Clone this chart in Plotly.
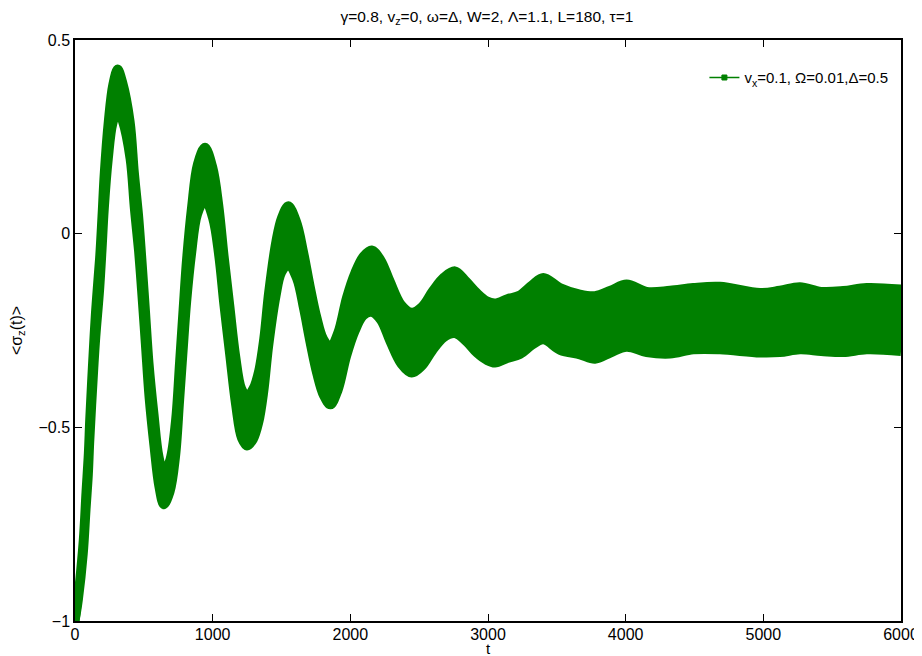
import plotly.graph_objects as go

# time samples (t) and the upper / lower envelope of the fast oscillation
t = [0, 24, 60, 80, 97, 107, 126, 149, 179, 196, 213, 242, 275, 310, 345, 400, 431, 462, 484, 511,
     538, 574, 610, 645, 690, 730, 760, 785, 811, 847, 890, 944, 1000, 1044, 1082, 1124, 1167, 1210,
     1250, 1295, 1335, 1371, 1407, 1460, 1500, 1550, 1610, 1660, 1707, 1756, 1805, 1855, 1910, 1973,
     2034, 2095, 2155, 2220, 2288, 2370, 2446, 2520, 2597, 2680, 2760, 2840, 2918, 2990, 3051, 3140,
     3232, 3320, 3402, 3523, 3668, 3777, 3890, 4007, 4152, 4322, 4491, 4685, 4976, 5120, 5266, 5420,
     5581, 5751, 6000]

upper = [-1.000, -0.930, -0.792, -0.667, -0.567, -0.479, -0.346, -0.203, -0.062, 0.044, 0.158, 0.290,
         0.385, 0.425, 0.392, 0.290, 0.158, 0.046, -0.058, -0.196, -0.336, -0.467, -0.576, -0.617,
         -0.583, -0.484, -0.330, -0.197, -0.064, 0.069, 0.180, 0.223, 0.172, 0.074, -0.055, -0.185,
         -0.316, -0.400, -0.419, -0.399, -0.353, -0.272, -0.151, -0.019, 0.041, 0.072, 0.030, -0.047,
         -0.134, -0.215, -0.272, -0.292, -0.255, -0.164, -0.100, -0.058, -0.042, -0.067, -0.122,
         -0.183, -0.203, -0.188, -0.148, -0.112, -0.096, -0.122, -0.152, -0.173, -0.179, -0.168,
         -0.158, -0.132, -0.113, -0.139, -0.156, -0.160, -0.146, -0.130, -0.149, -0.146, -0.139,
         -0.136, -0.152, -0.146, -0.137, -0.149, -0.147, -0.139, -0.143]

lower = [-1.000, -0.946, -0.826, -0.713, -0.621, -0.537, -0.412, -0.277, -0.144, -0.044, 0.066, 0.194,
         0.285, 0.316, 0.290, 0.194, 0.066, -0.046, -0.148, -0.284, -0.422, -0.549, -0.654, -0.700,
         -0.667, -0.576, -0.430, -0.303, -0.176, -0.051, 0.050, 0.086, 0.040, -0.056, -0.185, -0.313,
         -0.442, -0.528, -0.548, -0.531, -0.487, -0.408, -0.289, -0.161, -0.101, -0.080, -0.116, -0.193,
         -0.280, -0.361, -0.418, -0.442, -0.405, -0.316, -0.252, -0.212, -0.203, -0.223, -0.278,
         -0.337, -0.360, -0.342, -0.302, -0.268, -0.258, -0.278, -0.308, -0.327, -0.334, -0.322,
         -0.312, -0.288, -0.274, -0.301, -0.313, -0.324, -0.308, -0.293, -0.307, -0.311, -0.300,
         -0.300, -0.308, -0.307, -0.300, -0.304, -0.307, -0.300, -0.304]

x_ticks = [0, 1000, 2000, 3000, 4000, 5000, 6000]
y_ticks = [-1, -0.5, 0, 0.5]
y_tick_labels = ["\u22121", "\u22120.5", "0", "0.5"]

GREEN = "#008000"
FONT = "Liberation Sans, Arial, Helvetica, sans-serif"

fig = go.Figure()
fig.add_trace(go.Scatter(x=t, y=upper, mode="lines", line=dict(color=GREEN, width=9, shape="spline"),
                         showlegend=False, hoverinfo="skip"))
fig.add_trace(go.Scatter(x=t, y=lower, mode="lines", line=dict(color=GREEN, width=9, shape="spline"),
                         fill="tonexty", fillcolor=GREEN, showlegend=False, hoverinfo="skip"))
# legend entry
fig.add_trace(go.Scatter(x=[None], y=[None], mode="lines+markers",
                         line=dict(color=GREEN, width=1.5),
                         marker=dict(symbol="square", size=5, color=GREEN, line=dict(color=GREEN, width=1)),
                         name="v<sub>x</sub>=0.1, Ω=0.01,Δ=0.5"))

axis_common = dict(showline=True, linecolor="black", linewidth=1.5, mirror="ticks", ticks="inside",
                   ticklen=7, tickwidth=1, tickcolor="black", showgrid=False, zeroline=False,
                   automargin=False, tickfont=dict(family=FONT, size=16, color="black"))

# the page body adds an 8px offset, so the figure is 914x648 with left/top margins shifted accordingly
fig.update_layout(
    width=914, height=648,
    margin=dict(l=67, r=21, t=32, b=35),
    paper_bgcolor="white", plot_bgcolor="white",
    font=dict(family=FONT, color="black"),
    title=dict(text="γ=0.8, v<sub>z</sub>=0, ω=Δ, W=2, Λ=1.1, L=180, τ=1",
               x=0.524, xanchor="center", y=0.987, yanchor="middle",
               font=dict(family=FONT, size=15.5, color="black")),
    xaxis=dict(range=[0, 6000], tickvals=x_ticks, ticktext=[str(v) for v in x_ticks],
               ticklabelstandoff=-2, **axis_common),
    yaxis=dict(range=[-1, 0.5], tickvals=y_ticks, ticktext=y_tick_labels,
               title=dict(text="&lt;σ<sub>z</sub>(t)&gt;", font=dict(family=FONT, size=16), standoff=12),
               **axis_common),
    legend=dict(x=0.762, y=0.935, xanchor="left", yanchor="middle", bgcolor="rgba(0,0,0,0)",
                font=dict(family=FONT, size=15, color="black"), itemwidth=30, tracegroupgap=0),
    annotations=[dict(text="t", xref="paper", yref="paper", x=0.5, y=-0.048, xanchor="center",
                      yanchor="middle", showarrow=False, font=dict(family=FONT, size=15, color="black"))],
)

fig.write_html("out.html")
